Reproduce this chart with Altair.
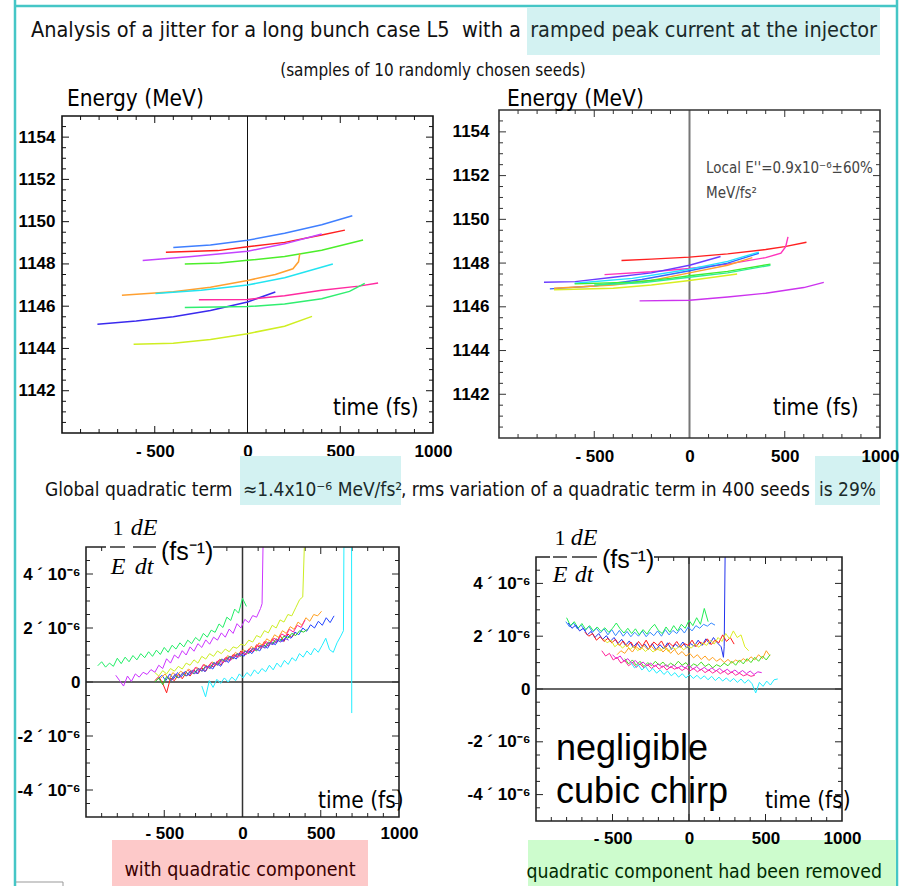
import altair as alt
import pandas as pd

# ---------------- data ----------------
# Panel 1: Energy (MeV) vs time (fs), 10 seeds
P1_COLORS = ["#3f7fff", "#ff1f1f", "#c444ff", "#4cee2a", "#ffa030",
             "#22e4f0", "#3a2aee", "#ff2aa0", "#30ee70", "#cfee22"]
P1_T = [
    [-400, -200, 0, 200, 400, 565],
    [-440, -160, 0, 200, 400, 525],
    [-565, -300, 0, 200, 400],
    [-338, -150, 0, 200, 400, 623],
    [-677, -400, -200, 0, 150, 245, 275, 282],
    [-496, -250, 0, 200, 460],
    [-809, -600, -400, -200, 0, 150],
    [-262, 0, 200, 400, 600, 704],
    [-338, 0, 200, 400, 550, 632],
    [-614, -400, -200, 0, 200, 348],
]
P1_E = [
    [1148.78, 1148.90, 1149.12, 1149.45, 1149.85, 1150.28],
    [1148.55, 1148.63, 1148.81, 1149.02, 1149.37, 1149.60],
    [1148.16, 1148.35, 1148.60, 1148.95, 1149.42],
    [1148.00, 1148.05, 1148.17, 1148.35, 1148.65, 1149.13],
    [1146.52, 1146.68, 1146.90, 1147.22, 1147.50, 1147.77, 1148.10, 1148.50],
    [1146.60, 1146.75, 1147.00, 1147.35, 1148.00],
    [1145.15, 1145.30, 1145.50, 1145.80, 1146.20, 1146.67],
    [1146.30, 1146.32, 1146.50, 1146.75, 1146.95, 1147.10],
    [1145.94, 1145.98, 1146.10, 1146.35, 1146.70, 1147.08],
    [1144.20, 1144.25, 1144.42, 1144.70, 1145.05, 1145.52],
]

# Panel 2: Energy vs time after correction
P2_COLORS = ["#ff2020", "#ff33bb", "#6a3cff", "#3366ff", "#22e0ff",
             "#ffa030", "#40ee30", "#30ee90", "#d8ee20", "#cc33ee"]
P2_T = [
    [-357, -200, 0, 200, 400, 500, 614],
    [-446, -200, 0, 200, 400, 480, 505, 517],
    [-764, -600, -400, -200, 0, 163],
    [-733, -500, -250, 0, 200, 364],
    [-603, -300, 0, 200, 364],
    [-711, -400, -200, 0, 200, 330],
    [-603, -300, -100, 0, 200, 425],
    [-500, -250, 0, 200, 425],
    [-711, -400, -200, 0, 250],
    [-262, 0, 200, 400, 600, 705],
]
P2_E = [
    [1148.12, 1148.18, 1148.27, 1148.42, 1148.62, 1148.75, 1148.95],
    [1147.47, 1147.60, 1147.75, 1147.95, 1148.25, 1148.45, 1148.75, 1149.20],
    [1147.12, 1147.15, 1147.35, 1147.55, 1147.90, 1148.30],
    [1146.82, 1146.95, 1147.25, 1147.65, 1148.00, 1148.45],
    [1147.08, 1147.30, 1147.72, 1148.08, 1148.50],
    [1146.85, 1147.00, 1147.20, 1147.55, 1147.90, 1148.25],
    [1147.05, 1147.12, 1147.30, 1147.42, 1147.62, 1147.95],
    [1147.00, 1147.10, 1147.35, 1147.55, 1147.90],
    [1146.78, 1146.85, 1147.00, 1147.20, 1147.50],
    [1146.27, 1146.30, 1146.45, 1146.62, 1146.88, 1147.12],
]

# Panel 3: (1/E) dE/dt in units of 1e-6 fs^-1, sampled every DT fs from T0
P3_COLORS = ["#22ee66", "#cc33ff", "#ccee22", "#ff1a1a", "#2244ff",
             "#ffa020", "#22cc22", "#ff2299", "#7a33ff", "#22eeff"]
P3_T0 = [-925, -810, -560, -560, -540, -520, -560, -350, -480, -260]
P3_DT = [25, 25, 25, 25, 25, 25, 25, 25, 25, 24]
P3_Y = [
    [0.60, 0.75, 0.55, 0.70, 0.58, 0.88, 0.68, 0.92, 0.75, 0.98, 0.82, 1.05, 0.90, 1.12, 0.95, 1.18, 1.02, 1.28, 1.10, 1.36,
     1.22, 1.45, 1.30, 1.55, 1.42, 1.65, 1.52, 1.80, 1.66, 1.92, 1.84, 2.15, 2.02, 2.40, 2.28, 2.70, 2.55, 3.10, 2.80],
    [0.25, 0.05, -0.15, 0.22, 0.02, 0.30, 0.18, 0.36, 0.28, 0.46, 0.36, 0.62, 0.50, 0.86, 0.70, 1.00, 0.88, 1.16, 1.00, 1.30,
     1.14, 1.42, 1.28, 1.56, 1.40, 1.66, 1.55, 1.82, 1.66, 1.96, 1.80, 2.16, 2.00, 2.32, 2.20, 2.46, 2.40, 2.72],
    [0.35, 0.22, 0.42, 0.30, 0.50, 0.40, 0.58, 0.48, 0.70, 0.62, 0.82, 0.70, 0.95, 0.85, 1.05, 0.95, 1.15, 1.05, 1.22, 1.12,
     1.30, 1.25, 1.40, 1.35, 1.55, 1.48, 1.72, 1.65, 1.90, 1.82, 2.10, 2.00, 2.30, 2.22, 2.50, 2.45, 2.75, 3.05],
    [0.05, 0.20, -0.05, -0.40, 0.15, 0.05, 0.28, 0.12, 0.35, 0.22, 0.45, 0.30, 0.52, 0.40, 0.65, 0.55, 0.78, 0.62, 0.90, 0.80,
     1.02, 0.92, 1.15, 1.00, 1.22, 1.10, 1.38, 1.25, 1.50, 1.32, 1.60, 1.45, 1.72, 1.50, 1.78, 1.65, 1.85],
    [0.10, 0.25, 0.05, 0.30, 0.12, 0.35, 0.20, 0.40, 0.25, 0.45, 0.30, 0.52, 0.38, 0.60, 0.48, 0.72, 0.58, 0.85, 0.72, 0.95,
     0.85, 1.08, 0.95, 1.18, 1.05, 1.25, 1.15, 1.38, 1.25, 1.48, 1.38, 1.60, 1.50, 1.72, 1.62, 1.85, 1.75, 2.00, 1.88, 2.12,
     2.00, 2.25, 2.10, 2.38, 2.20, 2.45],
    [0.15, 0.30, 0.10, 0.35, 0.22, 0.40, 0.30, 0.48, 0.38, 0.55, 0.45, 0.65, 0.55, 0.75, 0.62, 0.85, 0.75, 0.98, 0.88, 1.10,
     0.98, 1.20, 1.10, 1.32, 1.22, 1.45, 1.35, 1.60, 1.50, 1.75, 1.65, 1.90, 1.80, 2.05, 1.95, 2.22, 2.10, 2.38, 2.25, 2.50,
     2.45, 2.62],
    [0.00, 0.15, -0.10, 0.20, 0.05, 0.25, 0.15, 0.32, 0.22, 0.40, 0.30, 0.50, 0.40, 0.60, 0.50, 0.72, 0.62, 0.85, 0.75, 0.95,
     0.85, 1.05, 0.95, 1.15, 1.05, 1.25, 1.15, 1.35, 1.28, 1.48, 1.40, 1.60, 1.50, 1.70, 1.62, 1.80, 1.72, 1.90, 1.85, 1.95],
    [0.45, 0.30, 0.55, 0.40, 0.65, 0.50, 0.72, 0.60, 0.82, 0.70, 0.92, 0.80, 1.02, 0.92, 1.12, 1.02, 1.25, 1.15, 1.38, 1.28,
     1.50, 1.40, 1.62, 1.55, 1.78, 1.70, 1.95, 1.85, 2.10, 2.02, 2.30],
    [0.20, 0.05, 0.30, 0.15, 0.35, 0.22, 0.42, 0.30, 0.50, 0.40, 0.60, 0.50, 0.72, 0.62, 0.85, 0.75, 0.95, 0.88, 1.05, 0.98,
     1.15, 1.08, 1.25, 1.18, 1.35, 1.25, 1.45, 1.38, 1.55, 1.48, 1.62, 1.55],
    [-0.15, -0.55, 0.05, -0.20, 0.10, -0.05, 0.15, 0.00, 0.18, 0.05, 0.30, 0.15, 0.35, 0.22, 0.45, 0.30, 0.50, 0.38, 0.62, 0.45,
     0.70, 0.55, 0.80, 0.65, 0.90, 0.78, 1.05, 0.92, 1.15, 1.00, 1.25, 1.10, 1.35, 1.62, 1.20, 1.10, 1.45, 1.70],
]
# extra end points (spikes running off the top of the frame)
P3_TAIL_T = [[], [125, 131], [385, 395], [], [], [], [], [], [], [645, 648, 697, 698]]
P3_TAIL_Y = [[], [2.90, 5.0], [3.15, 5.0], [], [], [], [], [], [], [1.90, 5.0, 5.0, -1.15]]

# Panel 4: same quantity after removing the quadratic component
P4_COLORS = ["#3388ff", "#22ee55", "#2233ee", "#ff1a1a", "#ddee22",
             "#ffa020", "#44dd22", "#dd22dd", "#ff2299", "#22eeff"]
P4_T0 = [-805, -800, -790, -680, -560, -470, -420, -500, -570, -380]
P4_DT = [25, 25, 25, 25, 25, 25, 25, 25, 25, 24]
P4_Y = [
    [2.55, 2.35, 2.50, 2.28, 2.42, 2.20, 2.38, 2.15, 2.30, 2.12, 2.28, 2.05, 2.25, 2.02, 2.22, 2.00, 2.18, 1.98, 2.15, 2.00,
     2.20, 1.98, 2.15, 2.02, 2.20, 2.00, 2.25, 2.05, 2.22, 2.10, 2.30, 2.12, 2.35, 2.20, 2.40, 2.30, 2.45, 2.38, 2.50, 2.42],
    [2.70, 2.40, 2.55, 2.30, 2.48, 2.25, 2.40, 2.20, 2.35, 2.18, 2.32, 2.15, 2.30, 2.50, 2.28, 2.12, 2.30, 2.10, 2.28, 2.05,
     2.25, 2.08, 2.30, 2.45, 2.22, 2.10, 2.35, 2.15, 2.40, 2.20, 2.45, 2.30, 2.60, 2.40, 2.70, 2.45, 3.05, 2.55],
    [2.50, 2.30, 2.42, 2.20, 2.30, 2.05, 2.18, 1.95, 2.10, 1.88, 2.02, 1.80, 1.95, 1.72, 1.88, 1.65, 1.82, 1.58, 1.75, 1.55,
     1.70, 1.50, 1.72, 1.48, 1.68, 1.52, 1.75, 1.50, 1.70, 1.58, 1.78, 1.55, 1.72, 1.62, 1.85, 1.65, 1.90, 1.70, 1.95, 1.75,
     1.60],
    [2.15, 2.00, 2.10, 1.85, 1.98, 1.80, 1.92, 1.75, 1.88, 1.65, 1.82, 1.60, 1.78, 1.55, 1.80, 1.62, 1.85, 1.58, 1.78, 1.65,
     1.82, 1.55, 1.75, 1.62, 1.80, 1.58, 1.72, 1.65, 1.85, 1.60, 1.78, 1.70, 1.90, 1.68, 1.85, 1.75, 2.05, 1.80, 1.95, 1.70],
    [1.90, 1.75, 1.85, 1.60, 1.72, 1.55, 1.68, 1.50, 1.62, 1.45, 1.58, 1.42, 1.55, 1.40, 1.52, 1.45, 1.60, 1.42, 1.58, 1.50,
     1.65, 1.48, 1.62, 1.55, 1.70, 1.58, 1.75, 1.65, 1.85, 1.70, 1.95, 1.80, 2.10, 1.90, 2.20, 1.95, 2.05, 1.60, 1.45],
    [1.30, 1.45, 1.35, 1.55, 1.40, 1.60, 1.48, 1.65, 1.50, 1.62, 1.45, 1.58, 1.40, 1.55, 1.35, 1.50, 1.30, 1.42, 1.25, 1.35,
     1.18, 1.30, 1.12, 1.25, 1.08, 1.20, 1.05, 1.15, 1.00, 1.12, 0.98, 1.10, 1.02, 1.15, 1.05, 1.22, 1.10, 1.30, 1.15, 1.45,
     1.25],
    [1.15, 0.95, 1.10, 0.90, 1.05, 0.85, 1.00, 0.88, 1.05, 0.90, 1.02, 0.85, 0.98, 0.88, 1.05, 0.90, 1.00, 0.82, 0.95, 0.88,
     1.02, 0.85, 0.95, 0.80, 0.92, 0.85, 0.98, 0.88, 1.05, 0.90, 1.10, 0.95, 1.15, 1.00, 1.20, 1.05, 1.25, 1.10, 1.30],
    [1.30, 1.15, 1.25, 1.05, 1.15, 0.98, 1.08, 0.92, 1.02, 0.88, 0.98, 0.85, 0.95, 0.82, 0.92, 0.80, 0.90, 0.78, 0.88, 0.80,
     0.92, 0.75, 0.85, 0.72, 0.82, 0.70, 0.80, 0.68, 0.78, 0.65, 0.75, 0.62, 0.72, 0.60, 0.70, 0.58, 0.68, 0.55, 0.65, 0.62],
    [1.45, 1.25, 1.35, 1.10, 1.20, 0.98, 1.08, 0.88, 1.00, 0.82, 0.95, 0.80, 0.92, 0.78, 0.90, 0.75, 0.88, 0.72, 0.85, 0.75,
     0.82, 0.70, 0.80, 0.68, 0.78, 0.65, 0.75, 0.62, 0.72, 0.60, 0.70, 0.58, 0.68, 0.55, 0.65, 0.52, 0.60, 0.50, 0.55, 0.48,
     0.52],
    [1.00, 0.80, 0.92, 0.72, 0.85, 0.65, 0.78, 0.60, 0.72, 0.55, 0.68, 0.50, 0.62, 0.45, 0.58, 0.42, 0.55, 0.40, 0.52, 0.38,
     0.50, 0.35, 0.48, 0.32, 0.45, 0.30, 0.42, 0.28, 0.40, 0.25, 0.38, 0.22, 0.35, 0.20, -0.15, 0.25, 0.10, 0.30, 0.15, 0.35],
]
P4_TAIL_T = [[], [], [225, 230, 236], [], [], [], [], [], [], [580]]
P4_TAIL_Y = [[], [], [1.20, 1.60, 5.0], [], [], [], [], [], [], [0.38]]

X_LABELS = [-500, 0, 500, 1000]
X_TICKS_MINOR = [-900, -800, -700, -600, -400, -300, -200, -100, 100, 200, 300, 400, 600, 700, 800, 900]
X_TICKS_MAJOR = [-500, 0, 500]
E_LABELS = [1142, 1144, 1146, 1148, 1150, 1152, 1154]
E_TICKS_MINOR = [1140.5, 1141, 1141.5, 1142.5, 1143, 1143.5, 1144.5, 1145, 1145.5, 1146.5, 1147, 1147.5,
                 1148.5, 1149, 1149.5, 1150.5, 1151, 1151.5, 1152.5, 1153, 1153.5, 1154.5]
R_LABELS = [-4, -2, 0, 2, 4]
R_TICKS_MINOR = [-4.5, -3.5, -3, -2.5, -1.5, -1, -0.5, 0.5, 1, 1.5, 2.5, 3, 3.5, 4.5]

# ---------------- styling ----------------
FN = "DejaVu Sans Condensed, Liberation Sans Narrow, Arial Narrow, sans-serif"
FS = "Liberation Sans, Arial, sans-serif"
FB = "Liberation Sans, Arial, sans-serif"
SERIF = "Liberation Serif, Times New Roman, serif"
TEAL = "#45c6c6"
HIL = "#d3f2f2"
TICK_FS = 17

one = pd.DataFrame({"k": [0]})


def grid_df(t0s, dts, ys_list, colors, tails_t=None, tails_y=None):
    rows = []
    for s, (t0, dt, ys, c) in enumerate(zip(t0s, dts, ys_list, colors)):
        i = 0
        for j, y in enumerate(ys):
            rows.append({"s": s, "i": i, "t": t0 + j * dt, "v": y, "c": c})
            i += 1
        if tails_t:
            for t, y in zip(tails_t[s], tails_y[s]):
                rows.append({"s": s, "i": i, "t": t, "v": y, "c": c})
                i += 1
    return pd.DataFrame(rows)


def list_df(ts_list, ys_list, colors):
    rows = []
    for s, (ts, ys, c) in enumerate(zip(ts_list, ys_list, colors)):
        for i, (t, y) in enumerate(zip(ts, ys)):
            rows.append({"s": s, "i": i, "t": t, "v": y, "c": c})
    return pd.DataFrame(rows)


def txt(text, x, y, size, font=FN, color="black", align="left", weight="normal", style="normal"):
    return alt.Chart(one).mark_text(
        text=text, align=align, baseline="alphabetic", font=font, fontSize=size,
        color=color, fontWeight=weight, fontStyle=style
    ).encode(x=alt.value(x), y=alt.value(y))


def box(x1, y1, x2, y2, fill=None, stroke=None, sw=1.0):
    kw = {}
    if fill is not None:
        kw["fill"] = fill
    else:
        kw["fillOpacity"] = 0
    if stroke is not None:
        kw["stroke"] = stroke
        kw["strokeWidth"] = sw
    return alt.Chart(one).mark_rect(**kw).encode(
        x=alt.value(x1), x2=alt.value(x2), y=alt.value(y1), y2=alt.value(y2))


def hline(x1, x2, y, color, sw=1.0):
    return alt.Chart(one).mark_rule(color=color, strokeWidth=sw).encode(
        x=alt.value(x1), x2=alt.value(x2), y=alt.value(y))


def vline(x, y1, y2, color, sw=1.0):
    return alt.Chart(one).mark_rule(color=color, strokeWidth=sw).encode(
        x=alt.value(x), y=alt.value(y1), y2=alt.value(y2))


def panel(lines, w, h, xr, yr, ydom, ylabels, ylab_expr, ytmin, ytmaj, left_off, bottom_off,
          frame_col, frame_w, zero_col, zero_w, zero_h, line_w, extras, ylab_pad=7, xlab_pad=10):
    xs = alt.Scale(domain=[-1000, 1000], range=xr, nice=False, zero=False)
    ys = alt.Scale(domain=ydom, range=yr, nice=False, zero=False)
    xax = alt.Axis(values=X_LABELS, labelExpr="datum.value < 0 ? '- ' + abs(datum.value) : '' + datum.value",
                   domain=False, ticks=False, grid=False, title=None, labelFont=FB, labelFontSize=TICK_FS,
                   labelFontWeight="bold", labelColor="black", labelPadding=xlab_pad, labelFlush=False,
                   labelOverlap=False, orient="bottom", offset=bottom_off)
    yax = alt.Axis(values=ylabels, labelExpr=ylab_expr, domain=False, ticks=False, grid=False, title=None,
                   labelFont=FB, labelFontSize=TICK_FS, labelFontWeight="bold", labelColor="black",
                   labelPadding=ylab_pad, labelFlush=False, labelOverlap=False, orient="left", offset=left_off)

    def X(f):
        return alt.X(f + ":Q", scale=xs, axis=xax)

    def Y(f):
        return alt.Y(f + ":Q", scale=ys, axis=yax)

    bot, top = yr[0], yr[1]
    lft, rgt = xr[0], xr[1]
    layers = []
    # inward frame ticks
    for vals, L in ((X_TICKS_MINOR, 4), (X_TICKS_MAJOR, 7)):
        d = pd.DataFrame({"t": vals})
        layers.append(alt.Chart(d).mark_rule(color=frame_col, strokeWidth=1).encode(
            x=X("t"), y=alt.value(bot), y2=alt.value(bot - L)))
        layers.append(alt.Chart(d).mark_rule(color=frame_col, strokeWidth=1).encode(
            x=X("t"), y=alt.value(top), y2=alt.value(top + L)))
    for vals, L in ((ytmin, 4), (ytmaj, 7)):
        d = pd.DataFrame({"v": vals})
        layers.append(alt.Chart(d).mark_rule(color=frame_col, strokeWidth=1).encode(
            y=Y("v"), x=alt.value(lft), x2=alt.value(lft + L)))
        layers.append(alt.Chart(d).mark_rule(color=frame_col, strokeWidth=1).encode(
            y=Y("v"), x=alt.value(rgt), x2=alt.value(rgt - L)))
    # zero lines
    layers.append(alt.Chart(pd.DataFrame({"t": [0], "v": [ydom[0]], "v2": [ydom[1]]})).mark_rule(
        color=zero_col, strokeWidth=zero_w).encode(x=X("t"), y=Y("v"), y2="v2:Q"))
    if zero_h:
        layers.append(alt.Chart(pd.DataFrame({"t": [-1000], "t2": [1000], "v": [0]})).mark_rule(
            color=zero_col, strokeWidth=zero_w).encode(x=X("t"), x2="t2:Q", y=Y("v")))
    # data
    layers.append(alt.Chart(lines).mark_line(strokeWidth=line_w, clip=True).encode(
        x=X("t"), y=Y("v"), detail="s:N", order="i:Q", color=alt.Color("c:N", scale=None)))
    # frame
    layers.append(alt.Chart(pd.DataFrame({"t": [-1000], "t2": [1000], "v": [ydom[0]], "v2": [ydom[1]]})).mark_rect(
        fillOpacity=0, stroke=frame_col, strokeWidth=frame_w).encode(x=X("t"), x2="t2:Q", y=Y("v"), y2="v2:Q"))
    layers += extras
    return alt.layer(*layers).properties(width=w, height=h)


E_EXPR = "'' + datum.value"
R_EXPR = "datum.value == 0 ? '0' : (datum.value < 0 ? '-' : '') + abs(datum.value) + ' \u00b4 10\u207b\u2076'"

# ---- panel origins (global px): grid columns at x=62 and x=499, rows at y=110 and y=547
ox1, oy1 = 62, 110


def T1(text, x, y, size, **kw):
    return txt(text, x - ox1, y - oy1, size, **kw)


def B1(x1, y1, x2, y2, **kw):
    return box(x1 - ox1, y1 - oy1, x2 - ox1, y2 - oy1, **kw)


MID = 19
deco1 = [
    # slide frame
    vline(15 - ox1, -oy1, 886 - oy1, TEAL, 2.5),
    vline(897 - ox1, -oy1, 886 - oy1, TEAL, 2.5),
    hline(15 - ox1, 897 - ox1, 6 - oy1, TEAL, 2.5),
    hline(16 - ox1, 63 - ox1, 882 - oy1, "#999999", 1),
    vline(63 - ox1, 882 - oy1, 886 - oy1, "#999999", 1),
    # highlights
    B1(527, 8, 880, 55, fill=HIL),
    B1(240, 456, 401, 505, fill=HIL),
    B1(815, 456, 880, 505, fill=HIL),
    B1(112, 840, 368, 886, fill="#fdc9c9"),
    B1(528, 840, 896, 886, fill="#cdfccd"),
    # titles
    T1("Analysis of a jitter for a long bunch case L5\u00a0\u00a0with a", 31, 37, 21.5, color="#111111"),
    T1("ramped peak current at the injector", 877, 37, 21.5, align="right", color="#1a2a2a"),
    T1("(samples of 10 randomly chosen seeds)", 433, 76, 17, align="center", color="#111111"),
    T1("Global quadratic term", 45, 496, MID, color="#111111"),
    T1("\u22481.4x10\u207b\u2076 MeV/fs\u00b2", 243, 496, MID, color="#1a2a2a"),
    T1(", rms variation of a quadratic term in 400 seeds", 401, 496, MID, color="#111111"),
    T1("is 29%", 876, 496, MID, align="right", color="#1a2a2a"),
    T1("with quadratic component", 240, 876, 19.5, align="center", color="#3a0000"),
    T1("quadratic component had been removed", 882, 878, 19.3, align="right", color="#002a00"),
    # panel 1 labels
    T1("Energy (MeV)", 67, 106, 22.5),
    T1("time (fs)", 333, 415, 22.5),
]

p1 = panel(list_df(P1_T, P1_E, P1_COLORS), 371, 328, [0, 371], [323, 6], [1140, 1155],
           E_LABELS, E_EXPR, E_TICKS_MINOR, E_LABELS, 0, -5, "#111111", 1.6, "#111111", 1.0, False, 1.5, deco1)

ox2, oy2 = 499, 110
deco2 = [
    txt("Energy (MeV)", 507 - ox2, 106 - oy2, 22.5),
    txt("time (fs)", 773 - ox2, 415 - oy2, 22.5),
    txt("Local E''=0.9x10\u207b\u2076\u00b160%", 706 - ox2, 173 - oy2, 15, color="#444444"),
    txt("MeV/fs\u00b2", 706 - ox2, 198 - oy2, 15, color="#444444"),
]
p2 = panel(list_df(P2_T, P2_E, P2_COLORS), 381, 328, [0, 381], [328, 0], [1140, 1155],
           E_LABELS, E_EXPR, E_TICKS_MINOR, E_LABELS, 0, 0, "#333333", 1.6, "#777777", 2.0, False, 1.4, deco2,
           ylab_pad=10)


def frac_label(ox, oy, xw1, xw2, yf, xb1, xb2, xb3, xb4, c1, c2, yup, ydn, xpar, ypar):
    return [
        box(xw1 - ox, yf - 5 - oy, xw2 - ox, yf + 5 - oy, fill="white"),
        hline(xb1 - ox, xb2 - ox, yf - oy, "#111111", 1.3),
        hline(xb3 - ox, xb4 - ox, yf - oy, "#111111", 1.3),
        txt("1", c1 - ox, yup - oy, 22, font=SERIF, align="center"),
        txt("E", c1 - ox, ydn - oy, 24, font=SERIF, style="italic", align="center"),
        txt("dE", c2 - ox, yup - oy, 24, font=SERIF, style="italic", align="center"),
        txt("dt", c2 - ox, ydn - oy, 24, font=SERIF, style="italic", align="center"),
        txt("(fs\u207b\u00b9)", xpar - ox, ypar - oy, 25, font=FS),
    ]


ox3, oy3 = 62, 547
deco3 = frac_label(ox3, oy3, 106, 213, 547, 110, 125, 133, 156, 118, 144, 535, 574, 161, 560) + [
    txt("time (fs)", 318 - ox3, 808 - oy3, 22.5),
]
p3 = panel(grid_df(P3_T0, P3_DT, P3_Y, P3_COLORS, P3_TAIL_T, P3_TAIL_Y), 371, 270, [24, 337], [270, 0], [-5, 5],
           R_LABELS, R_EXPR, R_TICKS_MINOR, R_LABELS, -24, 0, "#222222", 1.6, "#333333", 1.5, True, 1.0, deco3,
           ylab_pad=6, xlab_pad=8)

ox4, oy4 = 499, 547
deco4 = frac_label(ox4, oy4, 550, 654, 557, 553, 567, 572, 597, 560, 584, 545, 582, 602, 568) + [
    txt("time (fs)", 765 - ox4, 808 - oy4, 22.5),
    txt("negligible", 556 - ox4, 760 - oy4, 36, font=FS),
    txt("cubic chirp", 556 - ox4, 803 - oy4, 36, font=FS),
]
p4 = panel(grid_df(P4_T0, P4_DT, P4_Y, P4_COLORS, P4_TAIL_T, P4_TAIL_Y), 381, 274, [37, 343], [274, 10], [-5, 5],
           R_LABELS, R_EXPR, R_TICKS_MINOR, R_LABELS, -37, 0, "#222222", 1.6, "#333333", 1.5, True, 1.0, deco4,
           ylab_pad=6, xlab_pad=9)

chart = alt.concat(
    p1, p2, p3, p4, columns=2, spacing=alt.RowColnumber(row=109, column=66), align="none", bounds="flush"
).properties(
    padding={"left": 62, "top": 110, "right": 842, "bottom": 776},
    autosize=alt.AutoSizeParams(type="none"),
    background="white",
).configure_view(stroke=None)

chart.save("out.html", embed_options={"renderer": "svg", "actions": False})
